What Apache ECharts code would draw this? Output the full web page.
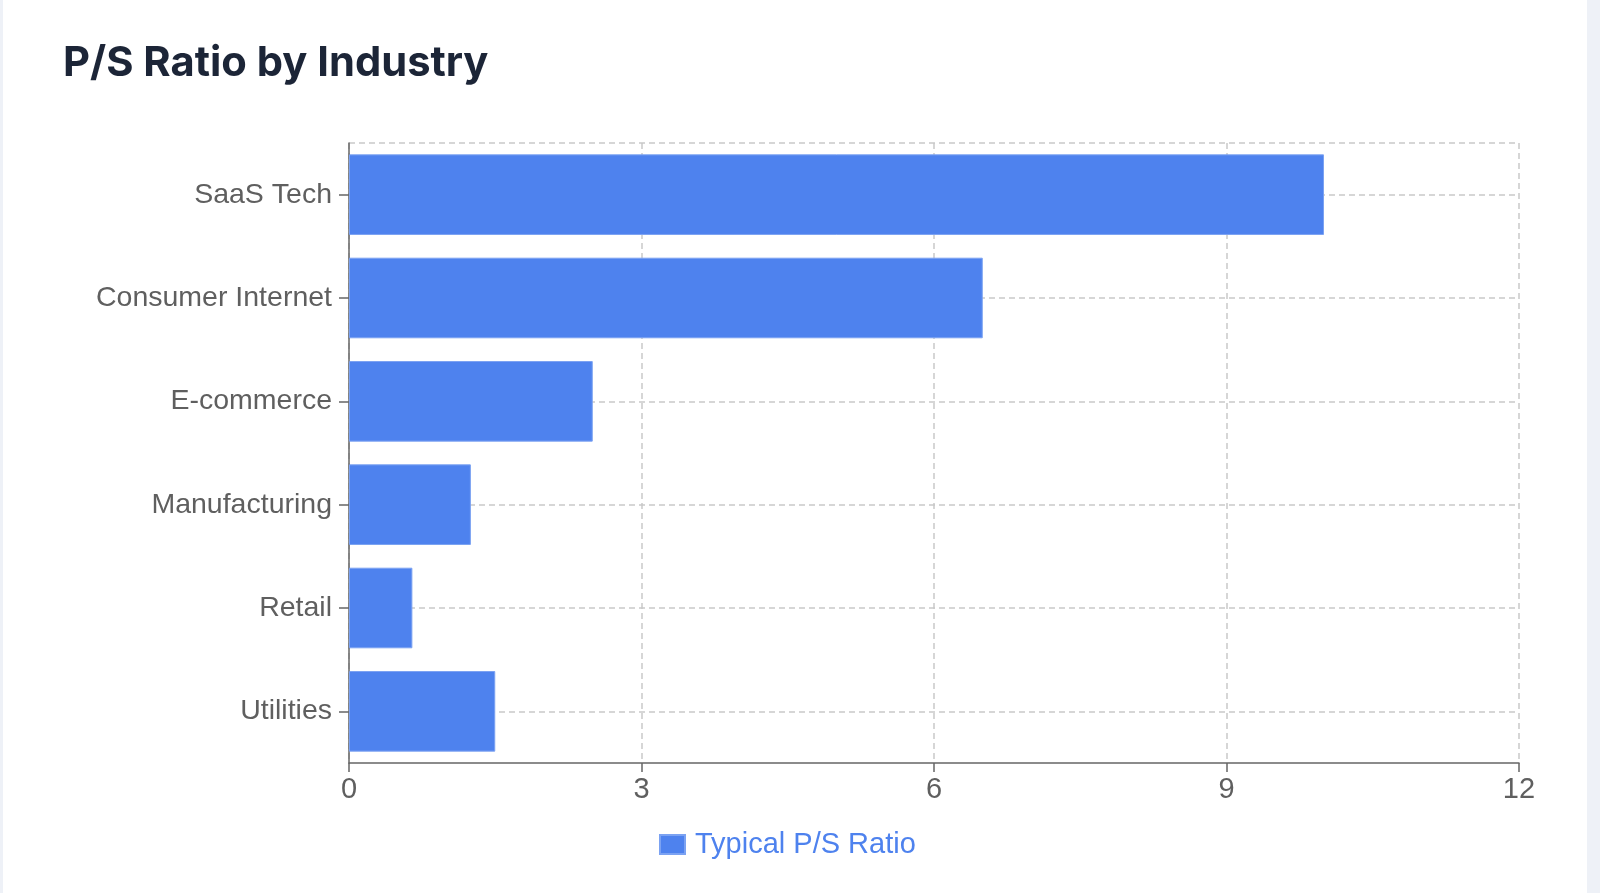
<!DOCTYPE html>
<html>
<head>
<meta charset="utf-8">
<script src="https://cdn.jsdelivr.net/npm/echarts@6/dist/echarts.min.js"></script>
<style>
  html, body { margin: 0; padding: 0; width: 1600px; height: 893px; overflow: hidden; background: #eef1f7; }
  #card { position: absolute; left: 3px; top: -20px; width: 1584px; height: 1000px; background: #ffffff; border-radius: 12px; }
  #chart { position: absolute; left: 0; top: 0; width: 1600px; height: 893px; }
</style>
</head>
<body>
<div id="card"></div>
<div id="chart"></div>
<script>
const titleText = 'P/S Ratio by Industry';
const seriesName = 'Typical P/S Ratio';
const categories = ['SaaS Tech', 'Consumer Internet', 'E-commerce', 'Manufacturing', 'Retail', 'Utilities'];
const ratios = [10, 6.5, 2.5, 1.25, 0.65, 1.5];
const xMin = 0, xMax = 12, xStep = 3;
// helper slots: half-band positions used only to place the horizontal dashed grid lines at category centres
const gridSlots = Array.from({ length: categories.length * 2 + 1 }, (_, i) => String(i));

const barColor = '#4e82ee';
const axisColor = '#666666';
const labelColor = '#5f5f5f';
const gridColor = '#c9c9c9';
const font = '"Liberation Sans", Arial, sans-serif';

const chart = echarts.init(document.getElementById('chart'), null, { renderer: 'canvas' });
chart.setOption({
  backgroundColor: 'transparent',
  animation: false,
  title: {
    text: titleText,
    left: 58,
    top: 37,
    textStyle: { fontFamily: 'Inter, "Noto Sans", sans-serif', fontWeight: 'bold', fontSize: 41.7, color: '#1c2537' }
  },
  legend: {
    data: [seriesName],
    left: 654,
    top: 825,
    itemWidth: 25,
    itemHeight: 19,
    itemGap: 8,
    textStyle: { color: barColor, fontSize: 29, fontFamily: font, padding: [0, 0, 0, 5] },
    icon: 'rect'
  },
  grid: { left: 349, right: 81, top: 143, bottom: 130, containLabel: false },
  xAxis: {
    type: 'value',
    min: xMin,
    max: xMax,
    interval: xStep,
    axisLine: { show: true, lineStyle: { color: axisColor, width: 1.5 } },
    axisTick: { show: true, length: 9, lineStyle: { color: axisColor, width: 1.5 } },
    axisLabel: { color: labelColor, fontSize: 29, fontFamily: font, margin: 12 },
    splitLine: { show: true, lineStyle: { color: gridColor, type: [6, 4], width: 1.5 } }
  },
  yAxis: [
    {
      type: 'category',
      data: categories,
      inverse: true,
      axisLine: { show: true, lineStyle: { color: axisColor, width: 1.5 } },
      axisTick: { show: true, length: 10, alignWithLabel: true, lineStyle: { color: axisColor, width: 1.5 } },
      axisLabel: { color: labelColor, fontSize: 28.5, fontFamily: font, margin: 17, padding: [10, 0, 0, 0] },
      splitLine: { show: false }
    },
    {
      type: 'category',
      data: gridSlots,
      boundaryGap: false,
      position: 'left',
      axisLine: { show: false },
      axisTick: { show: false },
      axisLabel: { show: false },
      splitLine: {
        show: true,
        interval: (i) => i % 2 === 1 || i === gridSlots.length - 1,
        lineStyle: { color: gridColor, type: [6, 4], width: 1.5 }
      }
    }
  ],
  series: [{
    name: seriesName,
    type: 'bar',
    yAxisIndex: 0,
    data: ratios,
    barCategoryGap: '22%',
    itemStyle: { color: barColor, borderColor: '#7ba2f2', borderWidth: 1 }
  }]
});
</script>
</body>
</html>
